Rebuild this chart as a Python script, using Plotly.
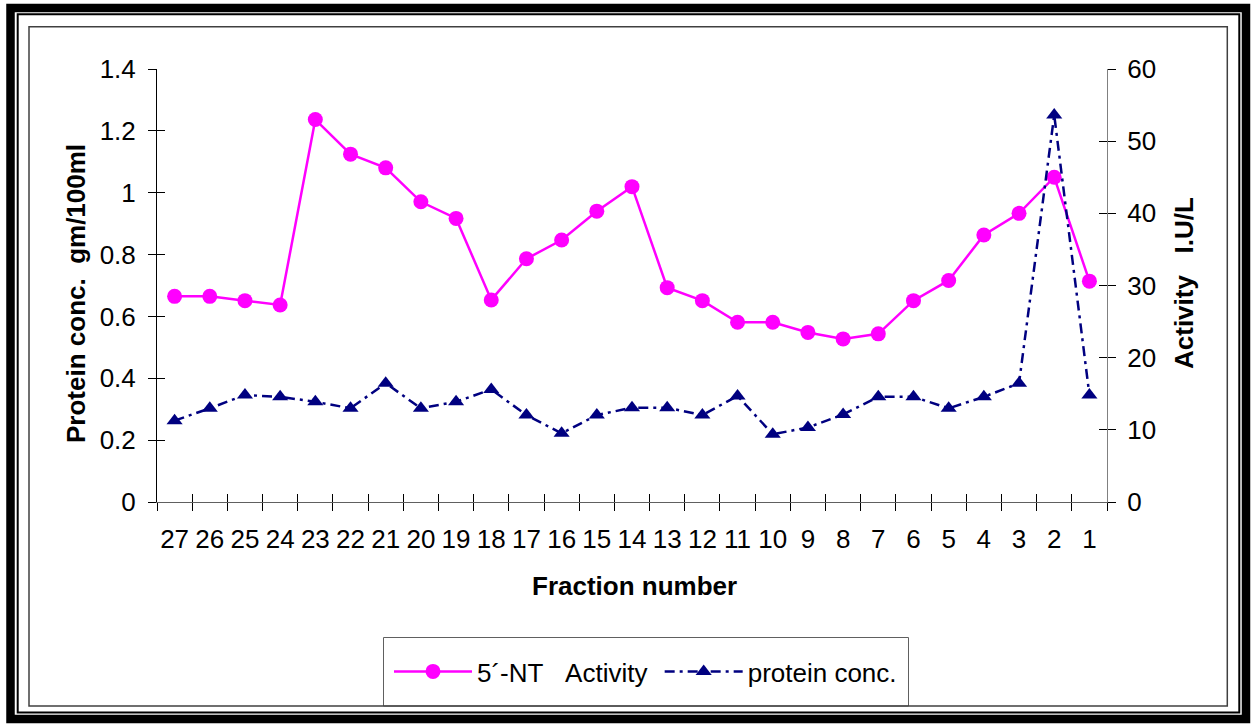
import numpy as np
import plotly.graph_objects as go

# Fraction numbers, in elution order as plotted (left to right)
fractions = ["27", "26", "25", "24", "23", "22", "21", "20", "19", "18", "17", "16", "15", "14",
             "13", "12", "11", "10", "9", "8", "7", "6", "5", "4", "3", "2", "1"]

# 5'-NT activity (I.U/L), right axis
activity = [28.5, 28.5, 27.9, 27.3, 53.0, 48.2, 46.3, 41.6, 39.3, 28.0, 33.7, 36.3, 40.3, 43.7,
            29.7, 27.9, 24.9, 24.9, 23.5, 22.6, 23.3, 27.9, 30.7, 37.0, 40.0, 45.0, 30.6]

# Protein concentration (gm/100ml), left axis
protein = [0.263, 0.303, 0.346, 0.340, 0.324, 0.303, 0.384, 0.303, 0.324, 0.364, 0.281, 0.222,
           0.281, 0.305, 0.305, 0.281, 0.343, 0.219, 0.241, 0.283, 0.340, 0.340, 0.303, 0.340,
           0.384, 1.251, 0.346]

W, H = 1255, 724
L, R, T, B = 157, 148, 69, 222
PW, PH = W - L - R, H - T - B


def xp(px):
    return (px - L) / PW


def yp(py):
    return (H - B - py) / PH


FONT = "Arial, Liberation Sans, sans-serif"
PINK = "#FF00FF"
NAVY = "#000080"

fig = go.Figure()

fig.add_trace(go.Scatter(
    x=fractions, y=activity, name="5\u00b4-NT\u00a0\u00a0\u00a0Activity\u00a0",
    mode="lines+markers", yaxis="y",
    line=dict(color=PINK, width=2.5),
    marker=dict(symbol="circle", size=15, color=PINK, line=dict(width=0)),
))
fig.add_trace(go.Scatter(
    x=fractions, y=protein, name="protein conc.",
    mode="lines+markers", yaxis="y2",
    line=dict(color=NAVY, width=2.5, dash="10px,5px,3px,5px"),
    marker=dict(symbol="triangle-up", size=14, color=NAVY, line=dict(width=0)),
))

# helper traces so the inward tick overlays get drawn
n = len(fractions)
fig.add_trace(go.Scatter(x=[None], y=[None], xaxis="x2", yaxis="y3",
                         showlegend=False, hoverinfo="skip"))
fig.add_trace(go.Scatter(x=[None], y=[None], xaxis="x2", yaxis="y4",
                         showlegend=False, hoverinfo="skip"))

tick_common = dict(tickcolor="black", tickwidth=1, ticklen=8, showgrid=False, zeroline=False,
                   tickfont=dict(family=FONT, size=26, color="black"))

fig.update_layout(
    width=W, height=H,
    margin=dict(l=L, r=R, t=T, b=B),
    paper_bgcolor="white", plot_bgcolor="white",
    font=dict(family=FONT, size=26, color="black"),
    showlegend=True,
    legend=dict(orientation="h", x=xp(389), y=yp(648), xanchor="left", yanchor="top",
                bgcolor="rgba(0,0,0,0)", borderwidth=0, itemwidth=78,
                font=dict(family=FONT, size=26, color="black"), tracegroupgap=0),
    xaxis=dict(type="category", ticks="outside", tickson="boundaries", tickangle=0,
               showline=True, linecolor="#606060", linewidth=1,
               ticklabelstandoff=14, range=[-0.5, n - 0.5], **tick_common),
    xaxis2=dict(overlaying="x", range=[-0.5, n - 0.5], ticks="inside",
                tickvals=list(np.arange(n + 1) - 0.5), showticklabels=False,
                showline=False, anchor="y", **tick_common),
    yaxis=dict(side="right", range=[0, 60], dtick=10, ticks="outside",
               showline=True, linecolor="#808080", linewidth=1,
               ticklabelstandoff=6, **tick_common),
    yaxis2=dict(side="left", overlaying="y", range=[0, 1.4], dtick=0.2, ticks="outside",
                showline=True, linecolor="black", linewidth=1,
                ticklabelstandoff=7, **tick_common),
    yaxis3=dict(side="right", overlaying="y", range=[0, 60], dtick=10, ticks="inside",
                showticklabels=False, showline=False, **tick_common),
    yaxis4=dict(side="left", overlaying="y", range=[0, 1.4], dtick=0.2, ticks="inside",
                showticklabels=False, showline=False, **tick_common),
)

# axis titles
fig.add_annotation(text="<b>Fraction number</b>", xref="paper", yref="paper",
                   x=xp(634), y=yp(586), xanchor="center", yanchor="middle",
                   showarrow=False, font=dict(family=FONT, size=26, color="black"))
fig.add_annotation(text="<b>Protein conc.\u00a0 gm/100ml</b>", xref="paper", yref="paper",
                   x=xp(76), y=yp(294), xanchor="center", yanchor="middle", textangle=-90,
                   showarrow=False, font=dict(family=FONT, size=26, color="black"))
fig.add_annotation(text="<b>Activity\u00a0\u00a0\u00a0I.U/L</b>", xref="paper", yref="paper",
                   x=xp(1184), y=yp(283), xanchor="center", yanchor="middle", textangle=-90,
                   showarrow=False, font=dict(family=FONT, size=26, color="black"))


def frame(x0, y0, x1, y1, width, color):
    fig.add_shape(type="rect", xref="paper", yref="paper",
                  x0=xp(x0), x1=xp(x1), y0=yp(y0), y1=yp(y1),
                  line=dict(color=color, width=width), fillcolor="rgba(0,0,0,0)", layer="above")


# legend box
frame(383.5, 637.5, 908.5, 706, 1, "#606060")
# decorative borders
frame(10.5, 8, 1246, 719, 8.5, "black")
frame(17.7, 14.3, 1239.3, 712.5, 2, "black")
frame(29, 26.7, 1227.3, 706, 1.5, "#404040")

fig.write_html("out.html")
